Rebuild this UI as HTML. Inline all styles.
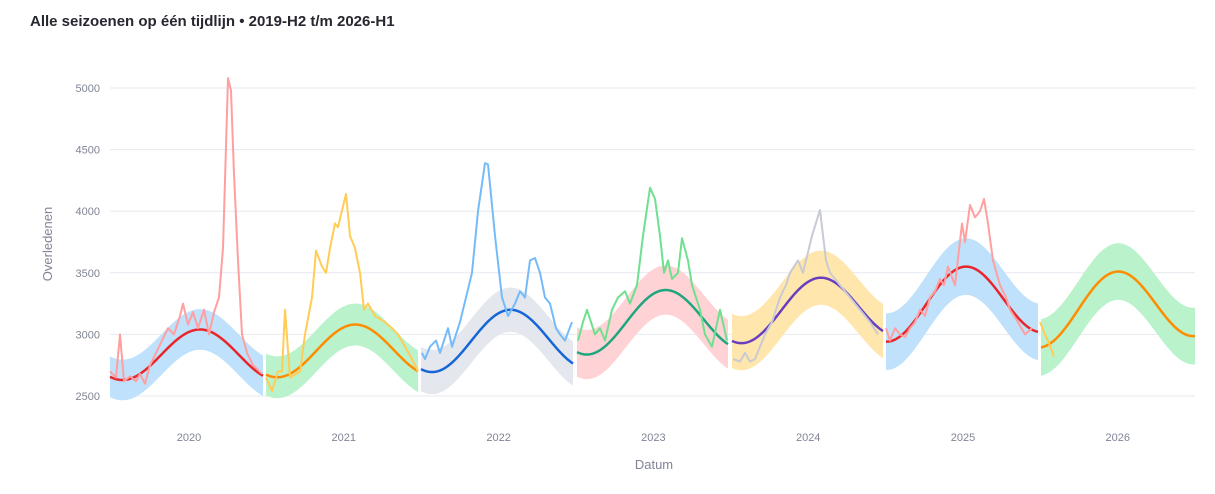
<!DOCTYPE html>
<html><head><meta charset="utf-8"><style>
body{margin:0;background:#fff;width:1215px;height:489px;overflow:hidden;font-family:"Liberation Sans",sans-serif}
</style></head><body>
<svg id="s" width="1215" height="489" xmlns="http://www.w3.org/2000/svg">
<text x="30" y="26" font-size="15" font-weight="bold" fill="#262730">Alle seizoenen op één tijdlijn • 2019-H2 t/m 2026-H1</text>
<g id="grid"></g>
<g id="bands"></g>
<g id="mids"></g>
<g id="lines"></g>
<text x="654" y="469" font-size="13" fill="#808495" text-anchor="middle">Datum</text>
<text transform="translate(52,244) rotate(-90)" font-size="13" fill="#808495" text-anchor="middle">Overledenen</text>
</svg>
<script>
const NS="http://www.w3.org/2000/svg";
const Y=v=>396-(v-2500)*0.1232;
function el(p,t,a,txt){const e=document.createElementNS(NS,t);for(const k in a)e.setAttribute(k,a[k]);if(txt)e.textContent=txt;document.getElementById(p).appendChild(e);}
for(const v of [2500,3000,3500,4000,4500,5000]){el("grid","line",{x1:110,x2:1195,y1:Y(v),y2:Y(v),stroke:"#e6e9ef","stroke-width":1});el("grid","text",{x:100,y:Y(v)+4,"font-size":11,fill:"#808495","text-anchor":"end"},String(v));}
[2020,2021,2022,2023,2024,2025,2026].forEach((y,i)=>el("grid","text",{x:189+i*154.8,y:441,"font-size":11,fill:"#808495","text-anchor":"middle"},String(y)));
const S=[
[110,263,2835,205,200,165,"#bfe1fb","#e8262b",0],
[266,418,2870,210,355,170,"#baf2cc","#ff8c00",0.1],
[421,573,2955,245,510,180,"#e5e7ef","#1666d8",0.2],
[577,728,3110,250,665,200,"#ffd3d5","#1fa67f",0.3],
[732,883,3210,250,820,220,"#ffe6ac","#6a3fbf",0.4],
[886,1038,3265,285,965,230,"#bfe1fb","#e8262b",0.5],
[1041,1195,3225,285,1117,230,"#baf2cc","#ff8c00",0.6]];
S.forEach(([a,b,m,A,xp,w,bc,lc,t])=>{
 const f=x=>m+A*Math.cos(2*Math.PI*(x-xp)/155)+t*(x-xp);
 let top=[],bot=[],mid=[];
 for(let x=a;x<=b;x+=1){top.push(x+","+Y(f(x)+w));bot.unshift(x+","+Y(f(x)-w));mid.push(x+","+Y(f(x)));}
 el("bands","polygon",{points:top.concat(bot).join(" "),fill:bc});
 el("mids","polyline",{points:mid.join(" "),fill:"none",stroke:lc,"stroke-width":2.5});
});
const act=[
["#ff9f9f",[[110,2700],[116,2650],[120,3000],[124,2620],[130,2660],[136,2620],[140,2680],[145,2600],[150,2750],[156,2850],[162,2950],[168,3050],[174,3000],[180,3150],[183,3250],[188,3080],[193,3180],[198,3050],[204,3200],[209,3000],[214,3180],[219,3300],[223,3700],[228,5080],[231,4980],[234,4300],[238,3600],[242,3000],[247,2850],[253,2750],[262,2680]]],
["#ffcc55",[[266,2650],[272,2540],[278,2700],[282,2700],[285,3200],[290,2650],[300,2700],[305,3000],[312,3300],[316,3680],[322,3550],[326,3500],[330,3700],[335,3900],[338,3870],[346,4140],[350,3800],[355,3700],[360,3500],[364,3200],[368,3250],[375,3150],[385,3100],[392,3050],[398,3000],[405,2900],[412,2800],[418,2700]]],
["#74bbf8",[[422,2850],[425,2800],[430,2900],[436,2950],[440,2850],[448,3050],[452,2900],[460,3100],[466,3300],[472,3500],[478,4000],[485,4390],[488,4380],[495,3800],[502,3300],[508,3150],[515,3250],[520,3350],[525,3300],[530,3600],[535,3620],[540,3500],[545,3300],[550,3250],[556,3050],[560,3000],[565,2950],[572,3100]]],
["#6ee08e",[[578,2950],[583,3100],[587,3200],[595,3000],[600,3050],[605,2950],[612,3200],[618,3300],[625,3350],[630,3250],[637,3400],[643,3800],[650,4190],[655,4100],[660,3800],[664,3500],[668,3600],[672,3450],[678,3500],[682,3780],[688,3600],[692,3400],[700,3200],[705,3000],[712,2900],[720,3200],[727,2950]]],
["#c8cad4",[[733,2800],[740,2780],[745,2850],[750,2780],[755,2800],[760,2900],[765,3000],[772,3100],[780,3300],[786,3400],[790,3500],[798,3600],[803,3500],[812,3800],[820,4010],[826,3600],[830,3500],[840,3400],[850,3300],[860,3200],[870,3100],[878,3000]]],
["#ff9f9f",[[886,3050],[890,2950],[895,3050],[900,3000],[905,2980],[910,3050],[915,3100],[920,3200],[925,3150],[930,3300],[935,3350],[940,3450],[944,3400],[948,3550],[955,3400],[962,3900],[965,3750],[970,4050],[975,3950],[980,4000],[984,4100],[988,3900],[993,3600],[1000,3400],[1006,3300],[1010,3200],[1018,3100],[1025,3000],[1032,3050]]],
["#ffcc55",[[1040,3100],[1045,3000],[1048,2950],[1054,2820]]]];
act.forEach(([c,p])=>el("lines","polyline",{points:p.map(([x,v])=>x+","+Y(v)).join(" "),fill:"none",stroke:c,"stroke-width":2,"stroke-linejoin":"round"}));
</script>
</body></html>
